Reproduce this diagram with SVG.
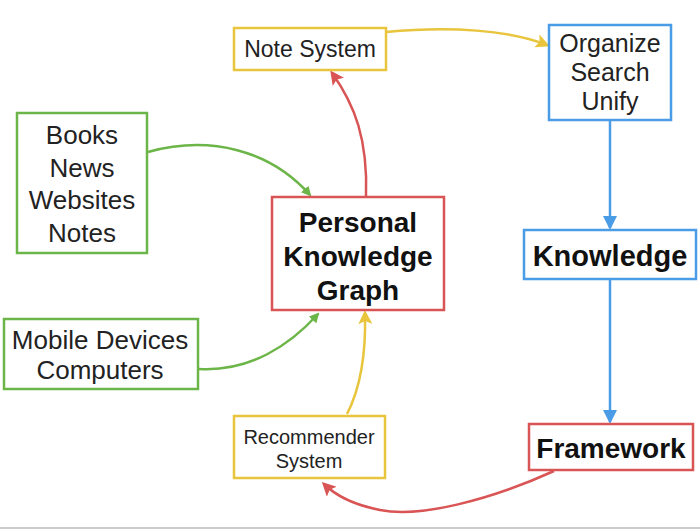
<svg xmlns="http://www.w3.org/2000/svg" width="700" height="530" viewBox="0 0 700 530">
<defs>
<style>
text{font-family:"Liberation Sans",Arial,sans-serif;fill:#222;text-anchor:middle}
.b{font-weight:bold;fill:#111}
.box{fill:#fff;stroke-width:2.5}
.g{stroke:#6cb548}.r{stroke:#d95454}.y{stroke:#e8c53c}.bl{stroke:#4b9ce6}
.c{fill:none;stroke-width:2.5}
</style>
<marker id="ag" markerWidth="10" markerHeight="10" refX="8" refY="5" orient="auto" markerUnits="userSpaceOnUse" viewBox="0 0 10 10"><path d="M0,0 L10,5 L0,10 Z" fill="#6cb548"/></marker>
<marker id="ar" markerWidth="14" markerHeight="14" refX="11" refY="7" orient="auto" markerUnits="userSpaceOnUse" viewBox="0 0 14 14"><path d="M0,0 L14,7 L0,14 L3,7 Z" fill="#d95454"/></marker>
<marker id="ay" markerWidth="14" markerHeight="14" refX="11" refY="7" orient="auto" markerUnits="userSpaceOnUse" viewBox="0 0 14 14"><path d="M0,0 L14,7 L0,14 L3,7 Z" fill="#e8c53c"/></marker>
<marker id="ab" markerWidth="14" markerHeight="14" refX="12" refY="7" orient="auto" markerUnits="userSpaceOnUse" viewBox="0 0 14 14"><path d="M0,0 L14,7 L0,14 Z" fill="#4b9ce6"/></marker>
</defs>
<rect width="700" height="530" fill="#fff"/>
<line x1="0" y1="528" x2="700" y2="528" stroke="#ccc" stroke-width="2"/>
<g id="connectors">
<path class="c y" d="M386,32 C450,26 510,30 547,45" marker-end="url(#ay)"/>
<path class="c bl" d="M610,120 L610,228" marker-end="url(#ab)"/>
<path class="c bl" d="M610,280 L610,422" marker-end="url(#ab)"/>
<path class="c r" d="M554,471 C490,500 420,518 380,510 C355,505 335,495 324,484" marker-end="url(#ar)"/>
<path class="c y" d="M347,414 C362,385 366,350 365,313" marker-end="url(#ay)"/>
<path class="c r" d="M366,196 C368,140 355,105 332,73" marker-end="url(#ar)"/>
<path class="c g" d="M148,152 C210,135 270,150 310,195" marker-end="url(#ag)"/>
<path class="c g" d="M199,369 C250,372 290,345 318,314" marker-end="url(#ag)"/>
</g>
<g id="note-system"><rect class="box y" x="234" y="28" width="152" height="42"/><text x="310" y="57" font-size="23">Note System</text></g>
<g id="organize"><rect class="box bl" x="549" y="25" width="122" height="95"/><text x="610" y="52" font-size="25">Organize</text><text x="610" y="81" font-size="25">Search</text><text x="610" y="110" font-size="25">Unify</text></g>
<g id="sources"><rect class="box g" x="17" y="113" width="130" height="140"/><text x="82" y="144" font-size="26">Books</text><text x="82" y="177" font-size="26">News</text><text x="82" y="209" font-size="26">Websites</text><text x="82" y="242" font-size="26">Notes</text></g>
<g id="devices"><rect class="box g" x="4" y="319" width="194" height="70"/><text x="100" y="349" font-size="26">Mobile Devices</text><text x="100" y="379" font-size="26">Computers</text></g>
<g id="pkg"><rect class="box r" x="272" y="197" width="172" height="113"/><text class="b" x="358" y="232" font-size="28">Personal</text><text class="b" x="358" y="266" font-size="28">Knowledge</text><text class="b" x="358" y="300" font-size="28">Graph</text></g>
<g id="knowledge"><rect class="box bl" x="524" y="230" width="172" height="49" stroke-width="3"/><text class="b" x="610" y="266" font-size="29">Knowledge</text></g>
<g id="framework"><rect class="box r" x="529" y="424" width="164" height="46"/><text class="b" x="611" y="458" font-size="28">Framework</text></g>
<g id="recommender"><rect class="box y" x="234" y="416" width="151" height="62"/><text x="309" y="444" font-size="20">Recommender</text><text x="309" y="468" font-size="20">System</text></g>
</svg>
